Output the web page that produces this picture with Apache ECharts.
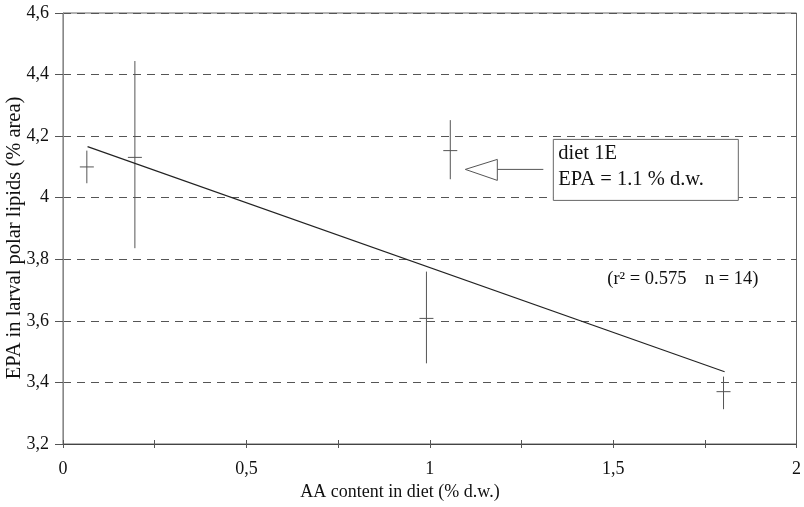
<!DOCTYPE html>
<html>
<head>
<meta charset="utf-8">
<script src="https://cdn.jsdelivr.net/npm/echarts@6/dist/echarts.min.js"></script>
<style>
html,body{margin:0;padding:0;background:#fff;}
#c{width:804px;height:507px;}
</style>
</head>
<body>
<div id="c"></div>
<script>
// ---- data ----
const xValues   = [0.065, 0.196, 1.056, 0.991, 1.801];   // AA content in diet (% d.w.)
const yMeans    = [4.100, 4.131, 4.153, 3.608, 3.370];   // EPA mean
const yLows     = [4.047, 3.836, 4.060, 3.462, 3.313];   // error bar low
const yHighs    = [4.153, 4.444, 4.252, 3.760, 3.419];   // error bar high
const regX      = [0.067, 1.804];                        // regression line x ends
const regY      = [4.166, 3.435];                        // regression line y ends
const xTicks    = [0, 0.5, 1, 1.5, 2];
const yTicks    = [3.2, 3.4, 3.6, 3.8, 4.0, 4.2, 4.4, 4.6];
const annotLines = ['diet 1E', 'EPA = 1.1 % d.w.'];
const annotArrowTip = [1.097, 4.092];                    // data coords of arrow tip
const statText  = '(r\u00B2 = 0.575    n = 14)';
const xTitle = 'AA content in diet (% d.w.)';
const yTitle = 'EPA in larval polar lipids (% area)';

const FONT = '"Liberation Serif", "Times New Roman", serif';
const TXT = '#111';

const errData = xValues.map((x, i) => [x, yMeans[i], yLows[i], yHighs[i]]);
const regData = regX.map((x, i) => [x, regY[i]]);

const chart = echarts.init(document.getElementById('c'), null, {renderer: 'canvas'});

const fmtComma = v => String(Math.round(v * 10) / 10).replace('.', ',');

const option = {
  animation: false,
  backgroundColor: '#fff',
  grid: {left: 63, right: 7, top: 13, bottom: 63, show: true, borderColor: '#666', borderWidth: 1, backgroundColor: 'transparent'},
  xAxis: [{
    type: 'value', min: xTicks[0], max: xTicks[xTicks.length - 1], interval: 0.25,
    axisLine: {show: true, lineStyle: {color: '#444', width: 1}},
    axisTick: {show: true, inside: true, length: 4, lineStyle: {color: '#555'}},
    axisLabel: {
      margin: 16, color: TXT, fontFamily: FONT, fontSize: 18,
      formatter: v => xTicks.some(t => Math.abs(t - v) < 1e-9) ? fmtComma(v) : ''
    },
    splitLine: {show: false}
  }, {
    type: 'value', min: xTicks[0], max: xTicks[xTicks.length - 1], interval: 0.25, position: 'bottom',
    axisLine: {show: false},
    axisTick: {show: true, inside: false, length: 4, lineStyle: {color: '#555'}},
    axisLabel: {show: false},
    splitLine: {show: false}
  }],
  yAxis: {
    type: 'value', min: yTicks[0], max: yTicks[yTicks.length - 1], interval: 0.2,
    axisLine: {show: true, lineStyle: {color: '#888', width: 1}},
    axisTick: {show: true, inside: false, length: 8, lineStyle: {color: '#555'}},
    axisLabel: {margin: 14, color: TXT, fontFamily: FONT, fontSize: 18, formatter: v => fmtComma(v)},
    splitLine: {show: true, lineStyle: {color: '#555', type: [8, 6], width: 1}}
  },
  series: [{
    type: 'custom',
    data: errData,
    z: 5,
    renderItem: function (params, api) {
      const x = api.value(0);
      const m = api.coord([x, api.value(1)]);
      const lo = api.coord([x, api.value(2)]);
      const hi = api.coord([x, api.value(3)]);
      const st = {stroke: '#555', lineWidth: 1};
      return {
        type: 'group',
        children: [
          {type: 'line', shape: {x1: lo[0], y1: lo[1], x2: hi[0], y2: hi[1]}, style: st},
          {type: 'line', shape: {x1: m[0] - 7, y1: m[1], x2: m[0] + 7, y2: m[1]}, style: st}
        ]
      };
    }
  }, {
    type: 'line',
    data: regData,
    symbol: 'none',
    lineStyle: {color: '#222', width: 1.1},
    z: 6
  }]
};
chart.setOption(option);

// Annotations derived from data coordinates
const tip = chart.convertToPixel({gridIndex: 0}, annotArrowTip);
const tx = tip[0], ty = tip[1];
const boxX = tx + 88, boxY = ty - 30, boxW = 185, boxH = 61;
const stat = chart.convertToPixel({gridIndex: 0}, [1.484, 3.734]);

chart.setOption({
  graphic: [
    {type: 'polygon', shape: {points: [[tx, ty], [tx + 32, ty - 10], [tx + 32, ty + 11]]},
     style: {fill: '#fff', stroke: '#555', lineWidth: 1}, z: 10},
    {type: 'line', shape: {x1: tx + 32, y1: ty, x2: tx + 78, y2: ty}, style: {stroke: '#555', lineWidth: 1}, z: 10},
    {type: 'rect', shape: {x: boxX, y: boxY, width: boxW, height: boxH},
     style: {fill: '#fff', stroke: '#666', lineWidth: 1}, z: 10},
    {type: 'text', x: boxX + 5, y: boxY + 14, z: 11,
     style: {text: annotLines[0], font: '20.5px ' + FONT, fill: TXT, verticalAlign: 'middle'}},
    {type: 'text', x: boxX + 5, y: boxY + 40, z: 11,
     style: {text: annotLines[1], font: '20.5px ' + FONT, fill: TXT, verticalAlign: 'middle'}},
    {type: 'text', x: stat[0], y: stat[1], z: 11,
     style: {text: statText, font: '18.5px ' + FONT, fill: TXT, verticalAlign: 'middle', align: 'left'}},
    {type: 'text', x: 400, y: 492, z: 11,
     style: {text: xTitle, font: '18px ' + FONT, fill: TXT, align: 'center', verticalAlign: 'middle'}},
    {type: 'text', x: 15, y: 238, rotation: Math.PI / 2, z: 11,
     style: {text: yTitle, font: '20.5px ' + FONT, fill: TXT, align: 'center', verticalAlign: 'middle'}}
  ]
});
</script>
</body>
</html>
